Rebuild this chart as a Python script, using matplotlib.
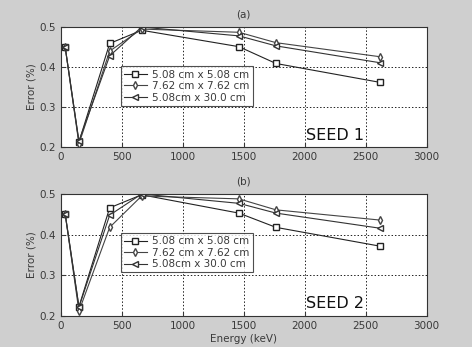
import numpy as np
import matplotlib
matplotlib.use("Agg")
import matplotlib.pyplot as plt

# energies (keV)
energy = [35, 148, 400, 662, 1460, 1764, 2614]

# panel (a) - seed 1
a_sq = [0.451, 0.213, 0.459, 0.492, 0.451, 0.409, 0.362]
a_di = [0.450, 0.208, 0.440, 0.495, 0.487, 0.461, 0.426]
a_tr = [0.450, 0.215, 0.428, 0.500, 0.478, 0.453, 0.411]

# panel (b) - seed 2
b_sq = [0.452, 0.223, 0.466, 0.498, 0.453, 0.418, 0.372]
b_di = [0.451, 0.212, 0.418, 0.495, 0.488, 0.461, 0.436]
b_tr = [0.451, 0.222, 0.448, 0.500, 0.477, 0.453, 0.416]

labels = ["5.08 cm x 5.08 cm", "7.62 cm x 7.62 cm", "5.08cm x 30.0 cm"]
xticks = [0, 500, 1000, 1500, 2000, 2500, 3000]
yticks = [0.2, 0.3, 0.4, 0.5]

bg = "#cfcfcf"
txt = "#3a3a3a"

fig = plt.figure(figsize=(4.72, 3.47), dpi=100, facecolor=bg)
ax1 = fig.add_axes([0.129, 0.576, 0.775, 0.346])
ax2 = fig.add_axes([0.129, 0.089, 0.775, 0.352])

def panel(ax, sq, di, tr, title, seed, legy):
    ax.plot(energy, sq, color="#222222", lw=0.8, marker="s", ms=4, mfc="white", mec="#222222", label=labels[0])
    ax.plot(energy, di, color="#444444", lw=0.8, marker="d", ms=4, mfc="white", mec="#444444", label=labels[1])
    ax.plot(energy, tr, color="#333333", lw=0.8, marker="<", ms=4, mfc="white", mec="#333333", label=labels[2])
    ax.set_xlim(0, 3000)
    ax.set_ylim(0.2, 0.5)
    ax.set_xticks(xticks)
    ax.set_yticks(yticks)
    ax.set_yticklabels(["0.2", "0.3", "0.4", "0.5"])
    ax.grid(True, color="#222222", ls=(0, (1.5, 2)), lw=0.7)
    ax.tick_params(labelsize=7.5, colors=txt, length=3, direction="in")
    for s in ax.spines.values():
        s.set_color("#333333")
        s.set_linewidth(0.8)
    ax.set_title(title, fontsize=7.5, color=txt, pad=7)
    ax.set_ylabel("Error (%)", fontsize=7.5, color=txt, labelpad=2)
    ax.text(0.749, 0.1, seed, transform=ax.transAxes, ha="center", va="center", fontsize=11.5, color="#111111")
    leg = ax.legend(loc="upper left", bbox_to_anchor=(0.164, legy), fontsize=7.5,
                    frameon=True, fancybox=False, handlelength=2.2, borderpad=0.3,
                    labelspacing=0.15, handletextpad=0.5, borderaxespad=0)
    leg.get_frame().set_edgecolor("#222222")
    leg.get_frame().set_linewidth(0.8)
    for t in leg.get_texts():
        t.set_color(txt)

panel(ax1, a_sq, a_di, a_tr, "(a)", "SEED 1", 0.672)
panel(ax2, b_sq, b_di, b_tr, "(b)", "SEED 2", 0.68)
ax2.set_xlabel("Energy (keV)", fontsize=7.5, color=txt, labelpad=2)

fig.savefig("out.png", dpi=100, facecolor=bg)
